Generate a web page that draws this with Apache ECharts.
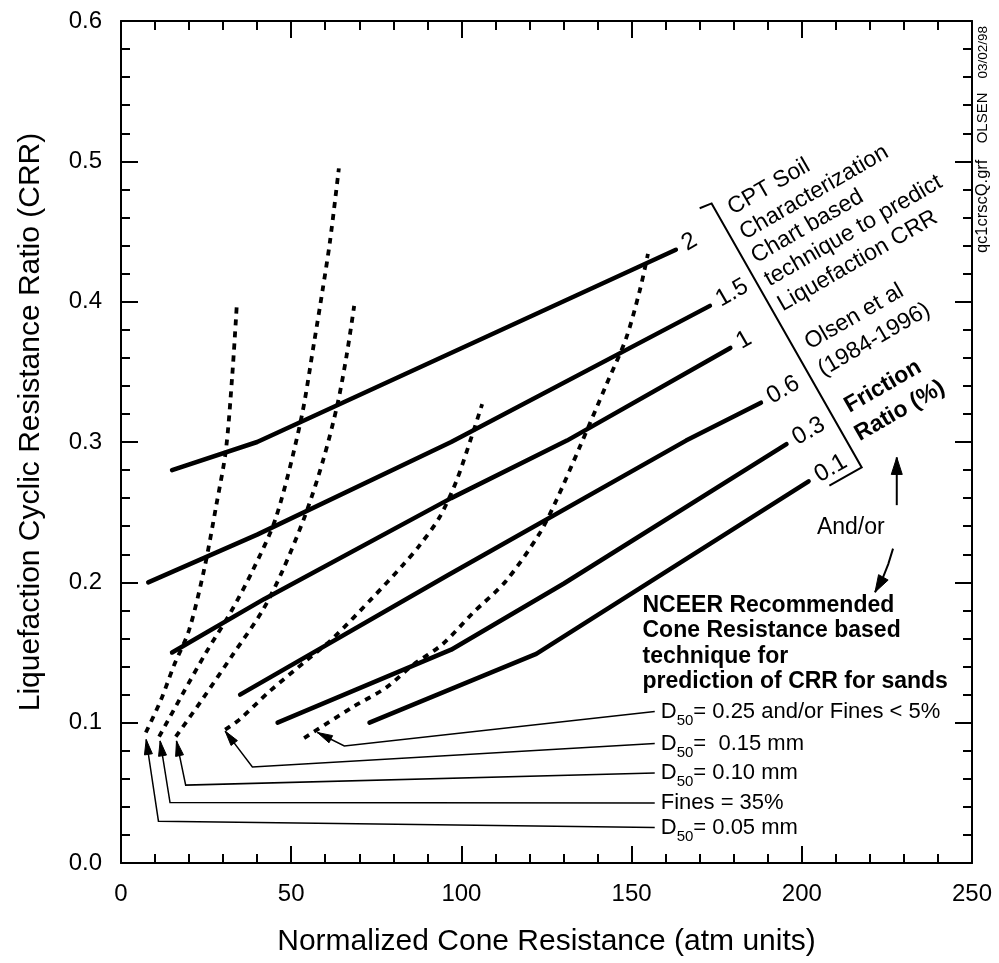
<!DOCTYPE html>
<html>
<head>
<meta charset="utf-8">
<script src="https://cdn.jsdelivr.net/npm/echarts@6/dist/echarts.min.js"></script>
<style>
  html, body { margin: 0; padding: 0; background: #ffffff; }
  #chart { width: 999px; height: 963px; }
</style>
</head>
<body>
<div id="chart"></div>
<script>
const FONT = '"Liberation Sans", Arial, Helvetica, sans-serif';

// ---- Olsen et al. (1984-1996): CRR contours for friction ratio (%) ----
const frictionRatios = ['2', '1.5', '1', '0.6', '0.3', '0.1'];
const fr2  = [[15, 0.280], [40, 0.300], [163, 0.437]];
const fr15 = [[8, 0.200], [40, 0.234], [97, 0.300], [173, 0.397]];
const fr1  = [[15, 0.150], [42, 0.188], [97, 0.260], [131, 0.301], [179, 0.367]];
const fr06 = [[35, 0.120], [96, 0.205], [166, 0.301], [188, 0.328]];
const fr03 = [[46, 0.100], [97, 0.152], [130, 0.199], [195.5, 0.2985]];
const fr01 = [[73, 0.100], [122, 0.149], [202, 0.272]];
const frictionLines = [fr2, fr15, fr1, fr06, fr03, fr01];

// ---- NCEER recommended cone-resistance curves (dotted) ----
const d05 = [[7.3, 0.093], [11.7, 0.116], [15.6, 0.141], [20, 0.166], [24.5, 0.210],
             [28, 0.255], [30.8, 0.294], [32.7, 0.348], [34, 0.397]];
const fines35 = [[11.2, 0.090], [18, 0.120], [25, 0.150], [32.3, 0.179], [38.6, 0.208],
                 [45.5, 0.246], [52.8, 0.315], [56.8, 0.372], [59.2, 0.408], [61.4, 0.443], [64, 0.495]];
const d10 = [[16.1, 0.090], [24, 0.117], [33, 0.149], [41.6, 0.180], [47.4, 0.208],
             [54.3, 0.249], [59.5, 0.288], [63.6, 0.327], [66.3, 0.362], [68.5, 0.397]];
const d15 = [[30.6, 0.095], [34.7, 0.102], [43.5, 0.122], [54.3, 0.144], [62.2, 0.160],
             [73.9, 0.189], [82.7, 0.212], [87.6, 0.226], [93.5, 0.246], [98.5, 0.272],
             [103.3, 0.306], [106.1, 0.327]];
const d25 = [[53.8, 0.089], [68, 0.111], [77.9, 0.125], [85.7, 0.141], [94.5, 0.156],
             [103.3, 0.178], [113.1, 0.201], [123, 0.235], [127.8, 0.258], [134.7, 0.296],
             [142.6, 0.341], [148.4, 0.374], [152.4, 0.408], [154.8, 0.434]];
const nceerCurves = [d25, d15, d10, fines35, d05];

// Curve captions (D50 written with a subscript)
const captionParts = [
  ['D', '50', '= 0.25 and/or Fines < 5%'],
  ['D', '50', '=  0.15 mm'],
  ['D', '50', '= 0.10 mm'],
  ['Fines = 35%', '', ''],
  ['D', '50', '= 0.05 mm']
];

// Leader lines from each caption to the foot of its curve (caption end first, arrow tip last)
const leader25 = [[156.8, 0.108], [65.6, 0.0834], [57.7, 0.093]];
const leader15 = [[156.8, 0.0851], [38.6, 0.0684], [30.6, 0.094]];
const leader10 = [[156.8, 0.0642], [19, 0.0555], [16.3, 0.087]];
const leaderF  = [[156.8, 0.0428], [14.4, 0.0431], [11.5, 0.087]];
const leader05 = [[156.8, 0.0253], [11, 0.0298], [7.4, 0.088]];
const leaders = [leader25, leader15, leader10, leaderF, leader05];

// "And/or" arrows and the bracket grouping the friction-ratio labels
const andOrUp = [[227.9, 0.255], [227.9, 0.289]];
const andOrDown = [[226.8, 0.224], [225.4, 0.213], [223.6, 0.202], [221.5, 0.193]];
const bracket = [[170, 0.4666], [173.5, 0.470], [217.6, 0.2819], [208.1, 0.2689]];

// Rotated description text (left-middle anchor of each line, in axis units)
const descLines = [
  ['CPT Soil', 178.8, 0.4656, false],
  ['Characterization', 182.3, 0.4479, false],
  ['Chart based', 185.7, 0.4312, false],
  ['technique to predict', 189.6, 0.4147, false],
  ['Liquefaction CRR', 193.5, 0.3969, false],
  ['Olsen et al', 201.4, 0.3696, false],
  ['(1984-1996)', 205.3, 0.3506, false],
  ['Friction', 213.1, 0.3245, true],
  ['Ratio (%)', 216.1, 0.3044, true]
];
const nceerTitle = [
  'NCEER Recommended',
  'Cone Resistance based',
  'technique for',
  'prediction of CRR for sands'
];

const axisCommon = {
  type: 'value',
  axisLine: { show: true, onZero: false, lineStyle: { color: '#000', width: 2 } },
  axisTick: { show: true, inside: true, length: 17, lineStyle: { color: '#000', width: 2 } },
  minorTick: { show: true, splitNumber: 5, length: 9, lineStyle: { color: '#000', width: 2 } },
  splitLine: { show: false },
  minorSplitLine: { show: false }
};

const series = [];
frictionLines.forEach((d, i) => {
  series.push({
    name: 'Friction ratio ' + frictionRatios[i],
    type: 'line', data: d, xAxisIndex: 0, yAxisIndex: 0,
    showSymbol: false, symbol: 'none', silent: true, z: 4,
    lineStyle: { color: '#000', width: 4.5, cap: 'round', join: 'round' }
  });
});
nceerCurves.forEach((d, i) => {
  series.push({
    name: 'NCEER ' + i,
    type: 'line', data: d, xAxisIndex: 0, yAxisIndex: 0,
    showSymbol: false, symbol: 'none', silent: true, smooth: 0.3, z: 3,
    lineStyle: { color: '#000', width: 3.8, type: [6, 6], cap: 'butt' }
  });
});
series.push({
  type: 'lines', coordinateSystem: 'cartesian2d', xAxisIndex: 0, yAxisIndex: 0,
  polyline: true, silent: true, z: 5, symbol: 'none',
  lineStyle: { color: '#000', width: 1.5, opacity: 1 },
  data: leaders.map(c => ({ coords: c }))
});
series.push({
  type: 'lines', coordinateSystem: 'cartesian2d', xAxisIndex: 0, yAxisIndex: 0,
  polyline: true, silent: true, z: 5, symbol: 'none',
  lineStyle: { color: '#000', width: 2, opacity: 1 },
  data: [{ coords: andOrUp }, { coords: andOrDown }, { coords: bracket }]
});

const option = {
  animation: false,
  backgroundColor: '#ffffff',
  grid: { left: 121, right: 27, top: 21, bottom: 100, containLabel: false },
  xAxis: [
    Object.assign({}, axisCommon, {
      position: 'bottom', min: 0, max: 250, interval: 50,
      name: 'Normalized Cone Resistance (atm units)',
      nameLocation: 'middle', nameGap: 64,
      nameTextStyle: { fontFamily: FONT, fontSize: 30, color: '#000' },
      axisLabel: { show: true, margin: 19, fontFamily: FONT, fontSize: 24, color: '#000' }
    }),
    Object.assign({}, axisCommon, {
      position: 'top', min: 0, max: 250, interval: 50, axisLabel: { show: false }
    })
  ],
  yAxis: [
    Object.assign({}, axisCommon, {
      position: 'left', min: 0, max: 0.6, interval: 0.1,
      name: 'Liquefaction Cyclic Resistance Ratio (CRR)',
      nameLocation: 'middle', nameGap: 75,
      nameTextStyle: { fontFamily: FONT, fontSize: 30, color: '#000', padding: [0, 0, 0, 40] },
      axisLabel: { show: true, margin: 19, fontFamily: FONT, fontSize: 24, color: '#000',
                   formatter: v => v.toFixed(1) }
    }),
    Object.assign({}, axisCommon, {
      position: 'right', min: 0, max: 0.6, interval: 0.1, axisLabel: { show: false }
    })
  ],
  series: series
};

const chart = echarts.init(document.getElementById('chart'), null, { renderer: 'canvas' });
chart.setOption(option);

const toPx = p => chart.convertToPixel({ xAxisIndex: 0, yAxisIndex: 0 }, p);
const ANG = 30 * Math.PI / 180;
const graphics = [];
const measureCtx = document.createElement('canvas').getContext('2d');
function textWidth(text, font) {
  measureCtx.font = font;
  return measureCtx.measureText(text).width;
}

function addText(text, x, y, opts) {
  graphics.push({
    type: 'text', x: x, y: y, rotation: opts.rotation || 0, silent: true, z: 10,
    style: Object.assign({
      text: text, fill: '#000',
      font: (opts.bold ? 'bold ' : '') + opts.size + 'px ' + FONT,
      align: opts.align || 'left', textAlign: opts.align || 'left',
      verticalAlign: opts.valign || 'middle', textVerticalAlign: opts.valign || 'middle'
    }, opts.extra || {})
  });
}

// filled arrowhead at the last point of a path, pointing along its last segment
function addArrowHead(path, len, halfW) {
  const a = toPx(path[path.length - 2]);
  const b = toPx(path[path.length - 1]);
  const dx = b[0] - a[0], dy = b[1] - a[1];
  const n = Math.hypot(dx, dy) || 1;
  const ux = dx / n, uy = dy / n;
  const bx = b[0] - ux * len, by = b[1] - uy * len;
  graphics.push({
    type: 'polygon', silent: true, z: 9,
    shape: { points: [[b[0], b[1]], [bx - uy * halfW, by + ux * halfW], [bx + uy * halfW, by - ux * halfW]] },
    style: { fill: '#000', stroke: '#000', lineWidth: 1 }
  });
}
leaders.forEach(l => addArrowHead(l, 15, 4));
addArrowHead(andOrUp, 17, 5.5);
addArrowHead(andOrDown, 17, 5.5);

// friction ratio labels at the end of each contour
frictionLines.forEach((d, i) => {
  const e = toPx(d[d.length - 1]);
  addText(frictionRatios[i], e[0] + Math.cos(ANG) * 9, e[1] - Math.sin(ANG) * 9,
          { size: 24, rotation: ANG });
});

// rotated description block
descLines.forEach(l => {
  const p = toPx([l[1], l[2]]);
  addText(l[0], p[0], p[1], { size: 23, rotation: ANG, bold: l[3] });
});

// NCEER title block
const t0 = toPx([153.2, 0.1835]);
nceerTitle.forEach((s, i) => addText(s, t0[0], t0[1] + i * 25.5, { size: 23, bold: true }));

// curve captions next to the leader lines: main text, lowered subscript, remainder
const CAP_SIZE = 22, SUB_SIZE = 15;
leaders.forEach((ld, i) => {
  const p = toPx(ld[0]);
  const parts = captionParts[i];
  let x = p[0] + 6;
  const y = p[1];
  addText(parts[0], x, y, { size: CAP_SIZE });
  if (parts[1]) {
    x += textWidth(parts[0], CAP_SIZE + 'px ' + FONT);
    addText(parts[1], x, y + 9, { size: SUB_SIZE });
    x += textWidth(parts[1], SUB_SIZE + 'px ' + FONT);
    addText(parts[2], x, y, { size: CAP_SIZE });
  }
});

// And/or
const ao = toPx([214.4, 0.239]);
addText('And/or', ao[0], ao[1], { size: 23, align: 'center' });

// file stamp along the right edge
[['qc1crscQ.grf', 253.2, 0.4346, 16.5], ['OLSEN', 253.2, 0.5128, 15], ['03/02/98', 253.2, 0.5590, 13.5]].forEach(s => {
  const p = toPx([s[1], s[2]]);
  addText(s[0], p[0], p[1], { size: s[3], rotation: Math.PI / 2 });
});

chart.setOption({ graphic: graphics });
</script>
</body>
</html>
